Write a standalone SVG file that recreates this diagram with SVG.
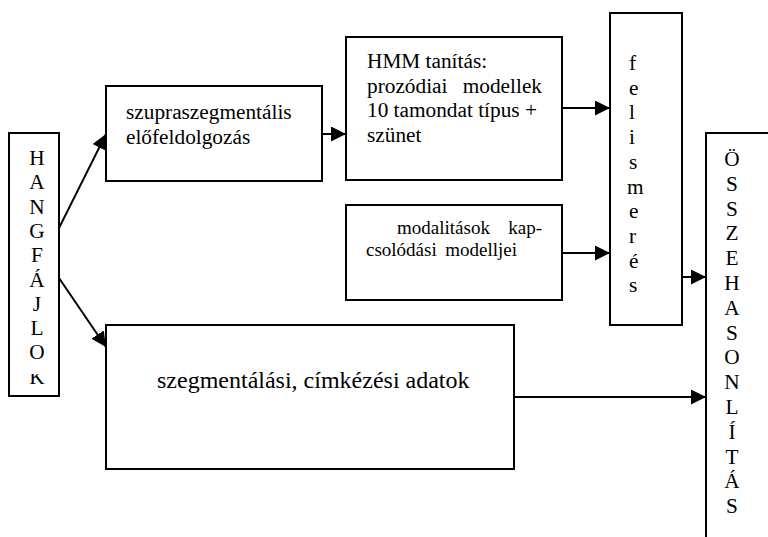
<svg xmlns="http://www.w3.org/2000/svg" width="768" height="537" viewBox="0 0 768 537">
<style>
.box{fill:#fff;stroke:#000;stroke-width:2}
text{font-family:"Liberation Serif","Times New Roman",serif;font-size:21.3px;fill:#000}
.big{font-size:24px}
.sm{font-size:19px}
.mid{text-anchor:middle}
.end{text-anchor:end}
.c{stroke:#000;stroke-width:2;fill:none}
</style>
<defs>
<marker id="ah" markerUnits="userSpaceOnUse" markerWidth="16" markerHeight="16" refX="15" refY="7.5" orient="auto">
<path d="M0,0 L15,7.5 L0,15 z" fill="#000"/>
</marker>
<clipPath id="kclip"><rect x="20" y="374" width="40" height="20"/></clipPath>
</defs>
<rect width="768" height="537" fill="#fff"/>

<g id="connectors">
<line class="c" x1="59" y1="228" x2="106" y2="134" marker-end="url(#ah)"/>
<line class="c" x1="59" y1="278" x2="106" y2="347" marker-end="url(#ah)"/>
<line class="c" x1="322" y1="134" x2="346" y2="134" marker-end="url(#ah)"/>
<line class="c" x1="562" y1="108" x2="610" y2="108" marker-end="url(#ah)"/>
<line class="c" x1="562" y1="253" x2="610" y2="253" marker-end="url(#ah)"/>
<line class="c" x1="682" y1="277" x2="706" y2="277" marker-end="url(#ah)"/>
<line class="c" x1="514" y1="397" x2="706" y2="397" marker-end="url(#ah)"/>
</g>

<g id="hangfajlok">
<rect class="box" x="9" y="133" width="50" height="263"/>
<text class="mid" x="37" y="165">H</text>
<text class="mid" x="37" y="189.3">A</text>
<text class="mid" x="37" y="213.6">N</text>
<text class="mid" x="37" y="237.9">G</text>
<text class="mid" x="37" y="262.2">F</text>
<text class="mid" x="37" y="286.5">Á</text>
<text class="mid" x="37" y="310.8">J</text>
<text class="mid" x="37" y="335.1">L</text>
<text class="mid" x="37" y="359.4">O</text>
<text class="mid" x="37" y="383.7" clip-path="url(#kclip)">K</text>
</g>

<g id="szupra">
<rect class="box" x="106" y="86" width="216" height="95"/>
<text x="126" y="119">szupraszegmentális</text>
<text x="126" y="143.5">előfeldolgozás</text>
</g>

<g id="hmm">
<rect class="box" x="346" y="37" width="216" height="143"/>
<text x="367" y="68">HMM tanítás:</text>
<text x="367" y="92.5">prozódiai</text>
<text class="end" x="542" y="92.5">modellek</text>
<text x="367" y="117">10 tamondat típus +</text>
<text x="367" y="141.5">szünet</text>
</g>

<g id="modalitasok">
<rect class="box" x="346" y="205" width="216" height="95"/>
<text class="sm" x="397" y="234">modalitások</text>
<text class="sm end" x="542" y="234">kap-</text>
<text class="sm" x="366" y="256">csolódási</text>
<text class="sm end" x="517" y="256">modelljei</text>
</g>

<g id="felismeres">
<rect class="box" x="610" y="13" width="72" height="312"/>
<text x="629" y="70">f</text>
<text x="629" y="94.7">e</text>
<text x="629" y="119.4">l</text>
<text x="629" y="144.1">i</text>
<text x="629" y="168.8">s</text>
<text x="627" y="193.5">m</text>
<text x="629" y="218.2">e</text>
<text x="629" y="242.9">r</text>
<text x="629" y="267.6">é</text>
<text x="629" y="292.3">s</text>
</g>

<g id="szegmentalasi">
<rect class="box" x="106" y="325" width="408" height="144"/>
<text class="big" x="157" y="388">szegmentálási, címkézési adatok</text>
</g>

<g id="osszehasonlitas">
<rect class="box" x="706" y="133" width="200" height="500"/>
<text class="mid" x="732" y="166">Ö</text>
<text class="mid" x="732" y="190.8">S</text>
<text class="mid" x="732" y="215.6">S</text>
<text class="mid" x="732" y="240.4">Z</text>
<text class="mid" x="732" y="265.2">E</text>
<text class="mid" x="732" y="290">H</text>
<text class="mid" x="732" y="314.8">A</text>
<text class="mid" x="732" y="339.6">S</text>
<text class="mid" x="732" y="364.4">O</text>
<text class="mid" x="732" y="389.2">N</text>
<text class="mid" x="732" y="414">L</text>
<text class="mid" x="732" y="438.8">Í</text>
<text class="mid" x="732" y="463.6">T</text>
<text class="mid" x="732" y="488.4">Á</text>
<text class="mid" x="732" y="513.2">S</text>
</g>
</svg>
